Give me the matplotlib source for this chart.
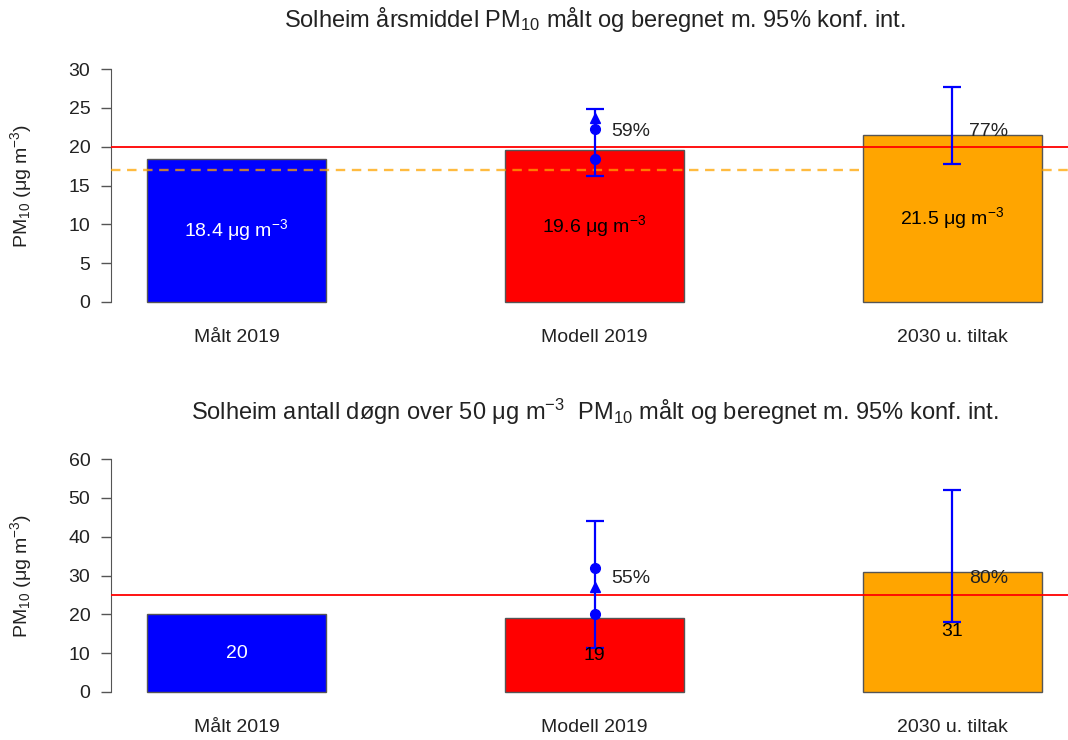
import numpy as np
import matplotlib
matplotlib.use("Agg")
import matplotlib.pyplot as plt

plt.rcParams['font.family'] = ['Liberation Sans', 'DejaVu Sans']
plt.rcParams['mathtext.fontset'] = 'custom'
plt.rcParams['mathtext.rm'] = 'Liberation Sans'
plt.rcParams['mathtext.it'] = 'Liberation Sans:italic'
plt.rcParams['mathtext.bf'] = 'Liberation Sans:bold'

# ---------------- data ----------------
categories = ["Målt 2019", "Modell 2019", "2030 u. tiltak"]
bar_colors = ["blue", "red", "orange"]
label_colors = ["white", "black", "black"]

annual_values = [18.4, 19.6, 21.5]
annual_ci_low = [np.nan, 16.2, 17.8]
annual_ci_high = [np.nan, 24.8, 27.7]
annual_circles = [18.4, 22.3]      # Modell 2019 points
annual_triangle = [23.7]           # Modell 2019 point
annual_pct = ["", "59%", "77%"]
annual_pct_y = 22.0
annual_limit = 20
annual_target = 17

days_values = [20, 19, 31]
days_ci_low = [np.nan, 11.3, 18.0]
days_ci_high = [np.nan, 44.0, 52.0]
days_circles = [20, 32]
days_triangle = [27]
days_pct = ["", "55%", "80%"]
days_pct_y = 29.2
days_limit = 25

# ---------------- figure ----------------
W, H = 1068, 740
fig = plt.figure(figsize=(W / 100, H / 100), dpi=100)

left_px, right_px = 111.2, 1077.8
ax_left = left_px / W
ax_w = (right_px - left_px) / W
FS = 14


def make_axes(top_px, bottom_px):
    return fig.add_axes([ax_left, 1 - bottom_px / H, ax_w, (bottom_px - top_px) / H])


ax1 = make_axes(59.7, 311.3)
ax2 = make_axes(449.7, 701.3)

x = np.arange(len(categories))
width = 0.5


def draw_panel(ax, values, lo, hi, circles, triangle, pct, pct_y, ylim, ticks, fmt):
    ax.bar(x, values, width=width, color=bar_colors, edgecolor="#555555", linewidth=1.0, zorder=2)
    for i in range(len(categories)):
        if not np.isnan(lo[i]):
            mid = (lo[i] + hi[i]) / 2
            ax.errorbar(x[i], mid, yerr=[[mid - lo[i]], [hi[i] - mid]], fmt='none',
                        ecolor='blue', elinewidth=1.6, capsize=6.5, capthick=1.6, zorder=4)
    ax.plot([x[1]] * len(circles), circles, 'o', color='blue', markersize=7, zorder=5)
    ax.plot([x[1]] * len(triangle), triangle, '^', color='blue', markersize=6.5, zorder=5)
    for i, v in enumerate(values):
        ax.text(x[i], v / 2, fmt(v), ha='center', va='center', fontsize=FS,
                color=label_colors[i], zorder=6)
        if pct[i]:
            ax.text(x[i] + 0.1, pct_y, pct[i], ha='center', va='center', fontsize=FS,
                    color='#222222', zorder=6)
    ax.set_xlim(-0.35, 2.35)
    ax.set_ylim(*ylim)
    ax.set_yticks(ticks)
    ax.set_yticklabels([str(t) for t in ticks], fontsize=FS)
    ax.spines['top'].set_visible(False)
    ax.spines['right'].set_visible(False)
    ax.spines['bottom'].set_visible(False)
    ax.spines['left'].set_bounds(ticks[0], ticks[-1])
    ax.spines['left'].set_color('#555555')
    ax.tick_params(axis='y', length=7, width=1, color='#555555', pad=8, labelcolor='#222222')
    ax.set_xticks(x)
    ax.set_xticklabels(categories, fontsize=FS, color='#222222')
    ax.tick_params(axis='x', length=0, pad=13)
    ax.set_ylabel("PM$_{10}$ (μg m$^{-3}$)", fontsize=FS, color='#222222')
    ax.yaxis.set_label_coords(-0.08, 0.5)


draw_panel(ax1, annual_values, annual_ci_low, annual_ci_high, annual_circles, annual_triangle,
           annual_pct, annual_pct_y, (-1.2, 31.2), [0, 5, 10, 15, 20, 25, 30],
           lambda v: f"{v:.1f} μg m$^{{-3}}$")
ax1.axhline(annual_limit, color='red', linewidth=1.3, zorder=3)
ax1.axhline(annual_target, color='orange', alpha=0.75, linewidth=1.7, linestyle=(0, (4, 2.8)), zorder=3)

draw_panel(ax2, days_values, days_ci_low, days_ci_high, days_circles, days_triangle,
           days_pct, days_pct_y, (-2.4, 62.4), [0, 10, 20, 30, 40, 50, 60],
           lambda v: f"{v:d}")
ax2.axhline(days_limit, color='red', linewidth=1.3, zorder=3)

cx = (left_px + right_px) / 2 / W
fig.text(cx, 1 - 20 / H, "Solheim årsmiddel PM$_{10}$ målt og beregnet m. 95% konf. int.",
         ha='center', va='center', fontsize=17, color='#222222')
fig.text(cx, 1 - 412 / H,
         "Solheim antall døgn over 50 μg m$^{-3}$  PM$_{10}$ målt og beregnet m. 95% konf. int.",
         ha='center', va='center', fontsize=17, color='#222222')

fig.savefig("out.png", dpi=100)
